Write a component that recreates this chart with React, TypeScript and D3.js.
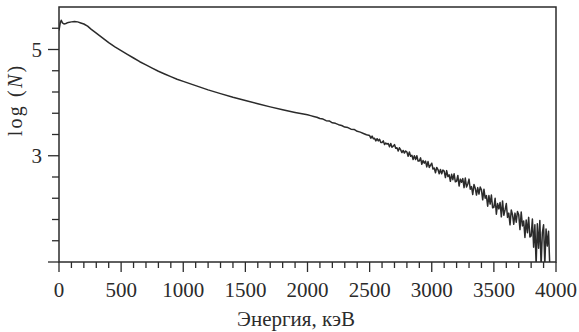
import React from 'react';
import * as d3 from 'd3';

// smooth part of the spectrum, keV -> log(N)
const headEnergy = [
  0, 10, 18, 28, 40, 55, 75, 100, 125, 150, 175, 200, 230, 260, 300, 350, 400, 450,
  500, 550, 600, 650, 700, 750, 800, 850, 900, 950, 1000, 1100, 1200, 1300, 1400,
  1500, 1600, 1700, 1800, 1900, 2000, 2025, 2050, 2075, 2100, 2125, 2150, 2175,
  2200, 2225, 2250, 2275, 2300, 2325, 2350, 2375, 2400, 2425, 2450, 2475,
];
const headLogN = [
  5.36, 5.5, 5.55, 5.5, 5.48, 5.49, 5.51, 5.52, 5.525, 5.52, 5.5, 5.48, 5.44, 5.38,
  5.31, 5.22, 5.13, 5.05, 4.98, 4.91, 4.84, 4.77, 4.71, 4.65, 4.59, 4.54, 4.49, 4.44,
  4.4, 4.32, 4.24, 4.17, 4.1, 4.04, 3.98, 3.92, 3.865, 3.815, 3.77, 3.755, 3.74, 3.725,
  3.7, 3.69, 3.66, 3.655, 3.62, 3.61, 3.585, 3.57, 3.54, 3.53, 3.5, 3.495, 3.46, 3.445,
  3.42, 3.395,
];

// noisy tail, channels every 10 keV from 2500 keV
const tailStart = 2500;
const tailStep = 10;
const tailLogN = [
  3.38, 3.33, 3.37, 3.32, 3.33, 3.28, 3.32, 3.28, 3.31, 3.25,
  3.25, 3.28, 3.21, 3.24, 3.22, 3.23, 3.17, 3.23, 3.16, 3.18,
  3.21, 3.14, 3.15, 3.09, 3.15, 3.11, 3.06, 3.1, 3.05, 3.09,
  3.07, 2.99, 3.07, 2.99, 3.01, 2.93, 3.0, 2.93, 3.0, 2.9,
  2.9, 2.96, 2.84, 2.91, 2.86, 2.9, 2.79, 2.89, 2.78, 2.82,
  2.86, 2.75, 2.77, 2.68, 2.78, 2.74, 2.66, 2.74, 2.66, 2.73,
  2.71, 2.59, 2.72, 2.61, 2.64, 2.52, 2.65, 2.55, 2.66, 2.51,
  2.52, 2.63, 2.43, 2.56, 2.5, 2.57, 2.4, 2.58, 2.41, 2.47,
  2.56, 2.37, 2.42, 2.27, 2.46, 2.39, 2.26, 2.4, 2.28, 2.41,
  2.36, 2.17, 2.37, 2.2, 2.25, 2.05, 2.25, 2.09, 2.26, 2.02,
  2.03, 2.2, 1.9, 2.1, 2.0, 2.12, 1.85, 2.15, 1.88, 1.98,
  2.1, 1.84, 1.92, 1.7, 1.98, 1.89, 1.71, 1.92, 1.75, 1.95,
  1.89, 1.61, 1.94, 1.68, 1.77, 1.46, 1.79, 1.55, 1.84, 1.47,
  1.49, 1.81, 1.28, 1.7, 0.95, 1.72, 1.26, 1.78, 0.92, 1.55,
  1.7, 0.95, 1.62, 1.3, 1.58, 0.92,
];

const xTickLabels = [0, 500, 1000, 1500, 2000, 2500, 3000, 3500, 4000];
const yTickLabels = [3, 5];

const W = 579;
const H = 332;
const left = 59, right = 556, top = 7, bottom = 262;
const font = '"Liberation Serif", "DejaVu Serif", serif';
const ink = '#2b2b2b';

export default function App() {
  const x = d3.scaleLinear().domain([0, 4000]).range([left, right]);
  const y = d3.scaleLinear().domain([1, 5.8]).range([bottom, top]);

  const points: [number, number][] = headEnergy.map((e, i) => [e, headLogN[i]]);
  tailLogN.forEach((v, i) => points.push([tailStart + i * tailStep, v]));

  const line = d3.line<[number, number]>()
    .x(d => x(d[0]))
    .y(d => y(d[1]));

  const xMinor = d3.range(0, 4001, 100);
  const yMinor = d3.range(0, 12).map(i => 1 + i * 0.4);

  return (
    <svg width={W} height={H} style={{ position: 'absolute', left: 0, top: 0 }}>
      <defs>
        <clipPath id="plot">
          <rect x={left} y={top} width={right - left} height={bottom - top} />
        </clipPath>
      </defs>
      <rect x={0} y={0} width={W} height={H} fill="#fff" />

      {/* x ticks */}
      {xMinor.map(v => {
        const major = v % 500 === 0;
        return (
          <line key={'xt' + v} x1={x(v)} x2={x(v)} y1={bottom} y2={bottom + (major ? 10 : 6)}
            stroke={ink} strokeWidth={1.3} />
        );
      })}
      {xTickLabels.map(v => (
        <text key={'xl' + v} x={x(v)} y={297} textAnchor="middle" fontFamily={font}
          fontSize={21} fill={ink}>{v}</text>
      ))}

      {/* y ticks */}
      {yMinor.map((v, i) => {
        const major = i % 5 === 0;
        return (
          <line key={'yt' + i} x1={left - (major ? 11 : 7)} x2={left} y1={y(v)} y2={y(v)}
            stroke={ink} strokeWidth={1.3} />
        );
      })}
      {yTickLabels.map(v => (
        <text key={'yl' + v} x={42} y={y(v) + 7} textAnchor="end" fontFamily={font}
          fontSize={21} fill={ink}>{v}</text>
      ))}

      <path d={line(points) || ''} fill="none" stroke={ink} strokeWidth={1.5}
        strokeLinejoin="round" clipPath="url(#plot)" />

      <rect x={left} y={top} width={right - left} height={bottom - top} fill="none"
        stroke={ink} strokeWidth={1.5} />

      <text x={296} y={326} textAnchor="middle" fontFamily={font} fontSize={21} fill={ink}>
        Энергия, кэВ
      </text>
      <text transform="translate(22,100) rotate(-90)" textAnchor="middle" fontFamily={font}
        fontSize={20} letterSpacing={2.2} fill={ink}>
        log (<tspan fontStyle="italic">N</tspan>)
      </text>
    </svg>
  );
}
